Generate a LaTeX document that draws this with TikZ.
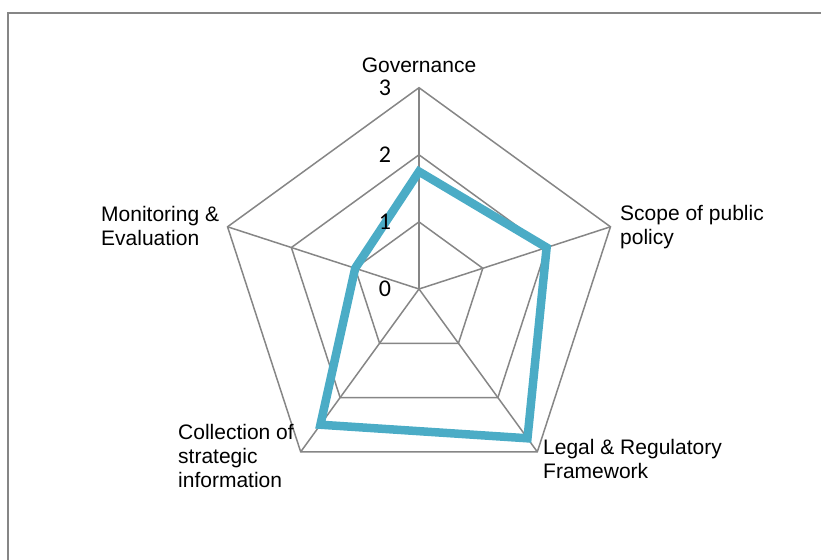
\documentclass[tikz,border=0pt]{standalone}
\usepackage{fontspec}
\setmainfont{Liberation Sans}
\newfontfamily\tickfont{Carlito}
\newlength{\du}
\setlength{\du}{1pt}

\begin{document}
\begin{tikzpicture}[
  gridline/.style={draw=gridgray, line width=1.5\du},
  series/.style={draw=seriesblue, line width=8.5\du},
  axislabel/.style={inner sep=0pt, align=left, font=\fontsize{21}{24}\selectfont},
  ticklabel/.style={inner sep=0pt, font=\tickfont\fontsize{24}{27}\selectfont}
]
\pgftransformxscale{1.000000}
\pgftransformyscale{-1.000000}
\definecolor{gridgray}{rgb}{0.525000, 0.525000, 0.525000}
\definecolor{seriesblue}{rgb}{0.294000, 0.675000, 0.776000}
\useasboundingbox (0\du,0\du) rectangle (821\du,559\du);
% chart frame
\draw[gridline, line width=1.7\du] (8\du,600\du)--(8\du,13\du)--(860\du,13\du);
\coordinate (c) at (419\du,289\du);
% web
\foreach \lv in {1,2,3}{
  \foreach \k in {0,...,4}{
    \pgfmathsetmacro{\ang}{90-72*\k}
    \coordinate (v\lv\k) at ({(419+67.1*\lv*cos(\ang))*\du},{(289-67.1*\lv*sin(\ang))*\du});
  }
  \draw[gridline] (v\lv0)--(v\lv1)--(v\lv2)--(v\lv3)--(v\lv4)--cycle;
}
\foreach \k in {0,...,4}
  \draw[gridline] (c)--(v3\k);
% series
\foreach \val [count=\k from 0] in {1.75,2,2.75,2.5,1}{
  \pgfmathsetmacro{\ang}{90-72*\k}
  \coordinate (d\k) at ({(419+67.1*\val*cos(\ang))*\du},{(289-67.1*\val*sin(\ang))*\du});
}
\draw[series] (d0)--(d1)--(d2)--(d3)--(d4)--cycle;
% axis values
\foreach \lv in {0,...,3}
  \node[ticklabel] (t\lv) at (385\du,{(289-67.1*\lv)*\du}) {\lv};
% categories (base = last line)
\node[axislabel, anchor=base] (gov) at (419\du,73\du) {Governance};
\node[axislabel, anchor=base west] (scope) at (620\du,244\du) {Scope of public\\policy};
\node[axislabel, anchor=base west] (legal) at (543\du,478\du) {Legal \& Regulatory\\Framework};
\node[axislabel, anchor=base west] (collect) at (178\du,487\du) {Collection of\\strategic\\information};
\node[axislabel, anchor=base west] (monitor) at (101\du,245\du) {Monitoring \&\\Evaluation};
\end{tikzpicture}
\end{document}
